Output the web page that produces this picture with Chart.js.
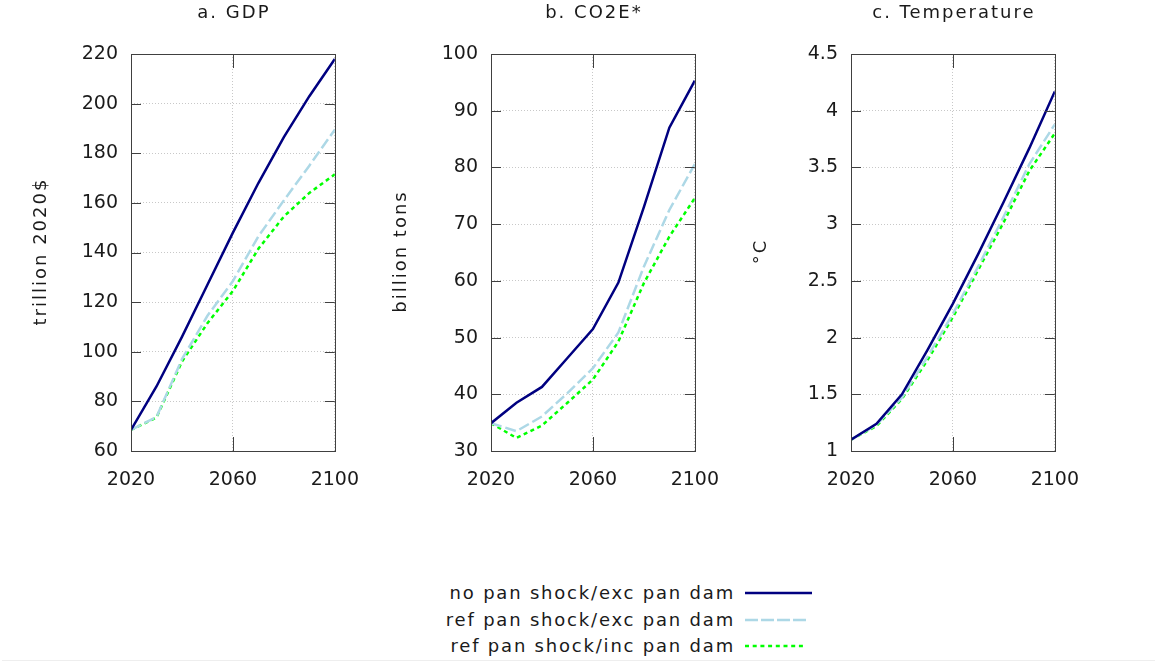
<!DOCTYPE html>
<html>
<head>
<meta charset="utf-8">
<script src="https://cdn.jsdelivr.net/npm/chart.js@4.4.1/dist/chart.umd.min.js"></script>
<style>
  html, body { margin: 0; padding: 0; background: #fff; }
  body { width: 1155px; height: 662px; position: relative; overflow: hidden; font-family: "DejaVu Sans", sans-serif; }
  .panel { position: absolute; top: 0; height: 520px; }
  .legrow { position: absolute; left: 0; width: 735px; height: 26px; line-height: 26px; text-align: right;
            font-size: 18px; letter-spacing: 1.8px; color: #1a1a1a; white-space: nowrap; }
  .legline { position: absolute; left: 744px; width: 70px; height: 10px; }
  #bottomline { position: absolute; left: 2px; top: 660px; width: 1153px; height: 1px; background: #eeeeee; }
</style>
</head>
<body>
<div class="panel" id="p0" style="left:20px;width:357px"><canvas id="c0"></canvas></div>
<div class="panel" id="p1" style="left:380px;width:357px"><canvas id="c1"></canvas></div>
<div class="panel" id="p2" style="left:740px;width:357px"><canvas id="c2"></canvas></div>
<div id="legend"></div>
<div id="bottomline"></div>
<script>
// ---- data ----
const years = [2020, 2030, 2040, 2050, 2060, 2070, 2080, 2090, 2100];
const xTickLabels = [2020, 2060, 2100];

const seriesNames = ["no pan shock/exc pan dam", "ref pan shock/exc pan dam", "ref pan shock/inc pan dam"];

const gdpNoPan  = [68.5, 86, 106, 127, 148, 168, 186.5, 203, 218];
const gdpRefExc = [68.5, 73.7, 97, 114.5, 128.5, 146.5, 161, 175, 189.5];
const gdpRefInc = [68.5, 73.5, 96, 111.5, 124.5, 141.5, 154.5, 164, 171.5];

const co2NoPan  = [34.9, 38.5, 41.3, 46.4, 51.5, 59.7, 73, 87, 95.3];
const co2RefExc = [34.9, 33.5, 36.1, 40.2, 44.6, 50.9, 62.5, 72.5, 80.6];
const co2RefInc = [34.9, 32.3, 34.5, 38.5, 42.6, 49.3, 59.6, 67.8, 74.6];

const tempNoPan  = [1.1, 1.24, 1.5, 1.89, 2.3, 2.74, 3.2, 3.67, 4.17];
const tempRefExc = [1.1, 1.23, 1.47, 1.83, 2.21, 2.63, 3.07, 3.53, 3.88];
const tempRefInc = [1.1, 1.22, 1.46, 1.80, 2.18, 2.60, 3.02, 3.47, 3.80];

const gdpTicks  = [60, 80, 100, 120, 140, 160, 180, 200, 220];
const co2Ticks  = [30, 40, 50, 60, 70, 80, 90, 100];
const tempTicks = [1, 1.5, 2, 2.5, 3, 3.5, 4, 4.5];

const panelTitles = ["a. GDP", "b. CO2E*", "c. Temperature"];
const yTitles = ["trillion 2020$", "billion tons", "\u00B0C"];

// ---- styles ----
const lineStyles = [
  { color: "#000080", dash: [] },
  { color: "#add8e6", dash: [11, 4] },
  { color: "#00ff00", dash: [4, 3.5] }
];
const FONT = "'DejaVu Sans', sans-serif";

const panels = [
  { id: "c0", series: [gdpNoPan, gdpRefExc, gdpRefInc], ticks: gdpTicks },
  { id: "c1", series: [co2NoPan, co2RefExc, co2RefInc], ticks: co2Ticks },
  { id: "c2", series: [tempNoPan, tempRefExc, tempRefInc], ticks: tempTicks }
];

// frame + inward tick marks + texts
const framePlugin = {
  id: "frame",
  afterDraw(chart, args, opts) {
    const ctx = chart.ctx, a = chart.chartArea;
    const xs = chart.scales.x, ys = chart.scales.y;
    ctx.save();
    ctx.strokeStyle = "#404040";
    ctx.lineWidth = 1;
    ctx.setLineDash([]);
    ctx.beginPath();
    ys.ticks.forEach(t => {
      const y = Math.round(ys.getPixelForValue(t.value)) + 0.5;
      ctx.moveTo(a.left, y); ctx.lineTo(a.left + 10, y);
      ctx.moveTo(a.right, y); ctx.lineTo(a.right - 10, y);
    });
    xs.ticks.forEach(t => {
      const x = Math.round(xs.getPixelForValue(t.value)) + 0.5;
      ctx.moveTo(x, a.bottom); ctx.lineTo(x, a.bottom - 14);
      ctx.moveTo(x, a.top); ctx.lineTo(x, a.top + 14);
    });
    ctx.stroke();
    ctx.strokeRect(Math.round(a.left) + 0.5, Math.round(a.top) + 0.5, Math.round(a.right - a.left), Math.round(a.bottom - a.top));
    // texts
    ctx.fillStyle = "#1a1a1a";
    ctx.font = "18px " + FONT;
    try { ctx.letterSpacing = "2px"; } catch (e) {}
    ctx.textAlign = "center";
    ctx.textBaseline = "middle";
    ctx.fillText(opts.title, (a.left + a.right) / 2 + 1, 13.5);
    ctx.translate(opts.yTitleX, (a.top + a.bottom) / 2);
    ctx.rotate(-Math.PI / 2);
    ctx.fillText(opts.yTitle, 1, 0);
    ctx.restore();
  }
};

panels.forEach((p, i) => {
  const datasets = p.series.map((vals, k) => ({
    label: seriesNames[k],
    data: years.map((yr, j) => ({ x: yr, y: vals[j] })),
    borderColor: lineStyles[k].color,
    borderDash: lineStyles[k].dash,
    borderWidth: 2.5,
    pointRadius: 0,
    tension: 0,
    fill: false,
    order: k
  }));
  new Chart(document.getElementById(p.id), {
    type: "line",
    data: { datasets },
    plugins: [framePlugin],
    options: {
      responsive: true,
      maintainAspectRatio: false,
      animation: false,
      events: [],
      layout: { padding: { top: 54, right: 40, bottom: 0, left: 0 } },
      plugins: {
        legend: { display: false },
        tooltip: { enabled: false },
        title: { display: false },
        frame: { title: panelTitles[i], yTitle: yTitles[i], yTitleX: 21.5 }
      },
      scales: {
        x: {
          type: "linear",
          min: years[0],
          max: years[years.length - 1],
          afterBuildTicks: s => { s.ticks = xTickLabels.map(v => ({ value: v })); },
          afterFit: s => { s.height = 69; },
          grid: { color: "#c8c8c8", lineWidth: 1, drawTicks: false },
          border: { display: false, dash: [1, 2] },
          ticks: { color: "#1a1a1a", font: { family: FONT, size: 19 }, padding: 18, maxRotation: 0, autoSkip: false,
                   callback: v => String(v) }
        },
        y: {
          type: "linear",
          min: p.ticks[0],
          max: p.ticks[p.ticks.length - 1],
          afterBuildTicks: s => { s.ticks = p.ticks.map(v => ({ value: v })); },
          afterFit: s => { s.width = 111; },
          grid: { color: "#c8c8c8", lineWidth: 1, drawTicks: false },
          border: { display: false, dash: [1, 2] },
          ticks: { color: "#1a1a1a", font: { family: FONT, size: 19 }, padding: 13, autoSkip: false,
                   callback: v => String(v) }
        }
      }
    }
  });
});

// ---- legend (HTML) ----
const legendRowsY = [593, 619.5, 645.5];
const leg = document.getElementById("legend");
seriesNames.forEach((name, k) => {
  const row = document.createElement("div");
  row.className = "legrow";
  row.style.top = (legendRowsY[k] - 13) + "px";
  row.textContent = name;
  leg.appendChild(row);
  const svgNS = "http://www.w3.org/2000/svg";
  const svg = document.createElementNS(svgNS, "svg");
  svg.setAttribute("class", "legline");
  svg.style.top = (legendRowsY[k] - 5) + "px";
  svg.setAttribute("width", "70"); svg.setAttribute("height", "10");
  const ln = document.createElementNS(svgNS, "line");
  ln.setAttribute("x1", "1"); ln.setAttribute("x2", k === 0 ? "68" : "62");
  ln.setAttribute("y1", "5"); ln.setAttribute("y2", "5");
  ln.setAttribute("stroke", lineStyles[k].color);
  ln.setAttribute("stroke-width", "2.5");
  if (lineStyles[k].dash.length) ln.setAttribute("stroke-dasharray", k === 1 ? "13 3" : "4 3.7");
  svg.appendChild(ln);
  leg.appendChild(svg);
});
</script>
</body>
</html>
